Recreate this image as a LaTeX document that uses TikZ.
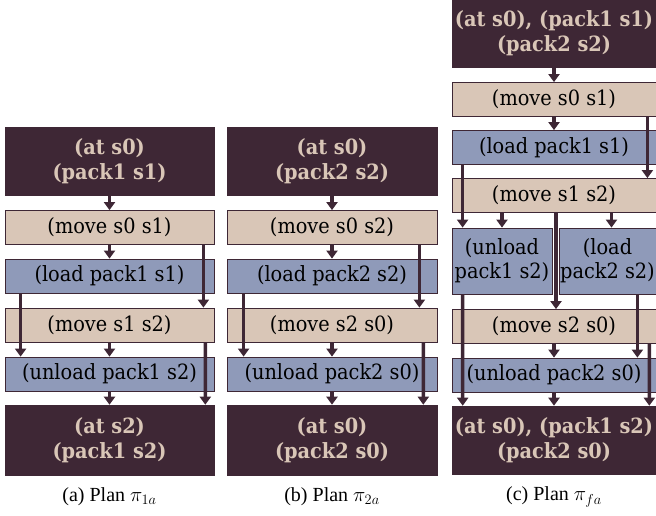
\documentclass[tikz,border=0pt]{standalone}
\usepackage{fontspec}
\setmainfont{DejaVu Serif}[FakeStretch=0.92]
\newfontfamily\capfont{Liberation Serif}
\usetikzlibrary{arrows.meta}
\definecolor{plum}{HTML}{3E2735}
\definecolor{sand}{HTML}{D9C6B7}
\definecolor{slate}{HTML}{8F9AB9}

\begin{document}
\begin{tikzpicture}[x=1pt,y=-1pt,->,>={Triangle[length=8pt,width=11pt]},
  line width=3.6pt,draw=plum,
  state node/.style={rectangle,fill=plum,draw=plum,text=sand,line width=0.6pt,inner sep=0pt,
    align=center,minimum height=68pt,font=\bfseries\fontsize{21}{25}\selectfont},
  move node/.style={rectangle,fill=sand,draw=plum,line width=0.8pt,inner sep=0pt,
    align=center,minimum height=34pt,font=\fontsize{21}{24}\selectfont},
  load node/.style={move node,fill=slate},
  caption node/.style={font=\capfont\fontsize{20}{24}\selectfont}]

  \useasboundingbox (0,0) rectangle (656,515);

  % plan (a)
  \node[state node,minimum width=209pt] (a0) at (109.5,161) {(at s0)\\(pack1 s1)};
  \node[move node,minimum width=209pt] (a1) at (109.5,227.5) {(move s0 s1)};
  \node[load node,minimum width=209pt] (a2) at (109.5,276) {(load pack1 s1)};
  \node[move node,minimum width=209pt] (a3) at (109.5,325) {(move s1 s2)};
  \node[load node,minimum width=209pt] (a4) at (109.5,374) {(unload pack1 s2)};
  \node[state node,minimum width=209pt,minimum height=70pt] (a5) at (109.5,440) {(at s2)\\(pack1 s2)};
  \node[caption node] (acap) at (109.5,497) {(a) Plan $\pi_{1a}$};

  % plan (b)
  \node[state node,minimum width=210pt] (b0) at (332,161) {(at s0)\\(pack2 s2)};
  \node[move node,minimum width=210pt] (b1) at (332,227.5) {(move s0 s2)};
  \node[load node,minimum width=210pt] (b2) at (332,276) {(load pack2 s2)};
  \node[move node,minimum width=210pt] (b3) at (332,325) {(move s2 s0)};
  \node[load node,minimum width=210pt] (b4) at (332,374) {(unload pack2 s0)};
  \node[state node,minimum width=210pt,minimum height=70pt] (b5) at (332,440) {(at s0)\\(pack2 s0)};
  \node[caption node] (bcap) at (332,497) {(b) Plan $\pi_{2a}$};

  % plan (c)
  \node[state node,minimum width=204pt,minimum height=67pt] (c0) at (554,33.5) {(at s0), (pack1 s1)\\(pack2 s2)};
  \node[move node,minimum width=204pt] (c1) at (554,99.5) {(move s0 s1)};
  \node[load node,minimum width=204pt] (c2) at (554,147.5) {(load pack1 s1)};
  \node[move node,minimum width=204pt] (c3) at (554,195.5) {(move s1 s2)};
  \node[load node,minimum width=100pt,minimum height=66pt] (c4a) at (502,261) {(unload\\pack1 s2)};
  \node[load node,minimum width=97pt,minimum height=66pt] (c4b) at (607.5,261) {(load\\pack2 s2)};
  \node[move node,minimum width=204pt] (c5) at (554,326.5) {(move s2 s0)};
  \node[load node,minimum width=204pt] (c6) at (554,375) {(unload pack2 s0)};
  \node[state node,minimum width=204pt] (c7) at (554,440) {(at s0), (pack1 s2)\\(pack2 s0)};
  \node[caption node] (ccap) at (554,497) {(c) Plan $\pi_{fa}$};

  \draw (a0.south) -- (a1.north);
  \draw (a1.south) -- (a2.north);
  \draw ([xshift=-11pt]a1.south east) -- ([xshift=-11pt]a3.north east);
  \draw ([xshift=16pt]a2.south west) -- ([xshift=16pt]a4.north west);
  \draw (a3.south) -- (a4.north);
  \draw ([xshift=-9pt]a3.south east) -- ([xshift=-9pt]a5.north east);
  \draw (a4.south) -- (a5.north);

  \draw (b0.south) -- (b1.north);
  \draw (b1.south) -- (b2.north);
  \draw ([xshift=-18pt]b1.south east) -- ([xshift=-18pt]b3.north east);
  \draw ([xshift=17pt]b2.south west) -- ([xshift=17pt]b4.north west);
  \draw (b3.south) -- (b4.north);
  \draw ([xshift=-14pt]b3.south east) -- ([xshift=-14pt]b5.north east);
  \draw (b4.south) -- (b5.north);

  \draw (c0.south) -- (c1.north);
  \draw (c1.south) -- (c2.north);
  \draw ([xshift=-9pt]c1.south east) -- ([xshift=-9pt]c3.north east);
  \draw ([xshift=11pt]c2.south west) -- ([xshift=11pt]c4a.north west);
  \draw (c4a.north |- c3.south) -- (c4a.north);
  \draw ([xshift=4pt]c4b.north |- c3.south) -- ([xshift=4pt]c4b.north);
  \draw ([xshift=2pt]c3.south) -- ([xshift=2pt]c5.north);
  \draw ([xshift=-19pt]c4b.south east) -- ([xshift=-19pt]c6.north east);
  \draw (c5.south) -- (c6.north);
  \draw ([xshift=-7pt]c5.south east) -- ([xshift=-7pt]c7.north east);
  \draw ([xshift=11pt]c4a.south west) -- ([xshift=11pt]c7.north west);
  \draw (c6.south) -- (c7.north);
\end{tikzpicture}
\end{document}
